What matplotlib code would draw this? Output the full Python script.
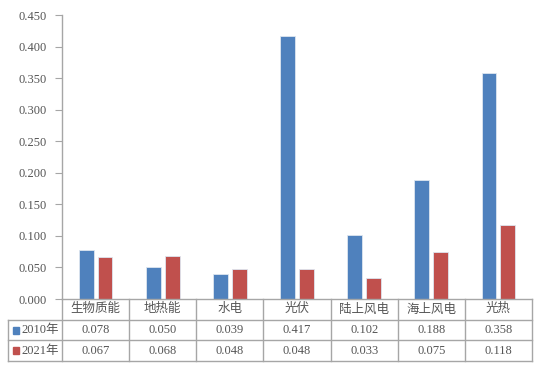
import matplotlib.pyplot as plt
import numpy as np
from matplotlib.patches import Rectangle

categories = ["生物质能", "地热能", "水电", "光伏", "陆上风电", "海上风电", "光热"]
series_names = ["2010年", "2021年"]
values_2010 = [0.078, 0.050, 0.039, 0.417, 0.102, 0.188, 0.358]
values_2021 = [0.067, 0.068, 0.048, 0.048, 0.033, 0.075, 0.118]
colors = ["#4F81BD", "#C0504D"]
yticks = np.arange(0, 0.451, 0.05)

FONT = ["Liberation Serif", "Noto Sans CJK SC"]
TEXT_COLOR = "#555555"
LINE_COLOR = "#A6A6A6"

W, H = 538, 365
fig = plt.figure(figsize=(W / 100, H / 100), dpi=100)

x_left, x_right = 62, 532
y_top, y_zero = 15, 299
row_h = 20.7
lab_left = 8

ax = fig.add_axes([x_left / W, 1 - y_zero / H, (x_right - x_left) / W, (y_zero - y_top) / H])
x = np.arange(len(categories))
bw = 0.22
for vals, c, off in zip([values_2010, values_2021], colors, [-0.14, 0.14]):
    ax.bar(x + off, vals, bw, color=c, edgecolor="#DDE6F0", linewidth=0.6)

ax.set_xlim(-0.5, len(categories) - 0.5)
ax.set_ylim(0, 0.45)
ax.set_yticks(yticks)
ax.set_yticklabels([f"{v:.3f}" for v in yticks], fontfamily=FONT, fontsize=9, color=TEXT_COLOR)
ax.tick_params(axis="y", direction="out", length=5, width=0.8, color=LINE_COLOR, pad=6)
ax.set_xticks([])
for s in ["top", "right", "bottom"]:
    ax.spines[s].set_visible(False)
ax.spines["left"].set_color(LINE_COLOR)
ax.spines["left"].set_linewidth(1.0)

# data table below the axes
cat_w = (x_right - x_left) / len(categories)
extra = (x_left - lab_left) / cat_w
tab = fig.add_axes([lab_left / W, 1 - (y_zero + 3 * row_h) / H,
                    (x_right - lab_left) / W, 3 * row_h / H])
tab.set_xlim(-0.5 - extra, len(categories) - 0.5)
tab.set_ylim(3, 0)
tab.axis("off")

lw = 1.0
# horizontal lines
tab.plot([-0.5, len(categories) - 0.5], [0, 0], color=LINE_COLOR, lw=lw, clip_on=False)
for r in [1, 2, 3]:
    tab.plot([-0.5 - extra, len(categories) - 0.5], [r, r], color=LINE_COLOR, lw=lw, clip_on=False)
# vertical lines
for i in range(len(categories) + 1):
    tab.plot([i - 0.5, i - 0.5], [0, 3], color=LINE_COLOR, lw=lw, clip_on=False)
tab.plot([-0.5 - extra, -0.5 - extra], [1, 3], color=LINE_COLOR, lw=lw, clip_on=False)

for i, cat in enumerate(categories):
    tab.text(i, 0.5, cat, ha="center", va="center", fontfamily=FONT, fontsize=9, color=TEXT_COLOR)
for r, (name, vals, c) in enumerate(zip(series_names, [values_2010, values_2021], colors), start=1):
    for i, v in enumerate(vals):
        tab.text(i, r + 0.5, f"{v:.3f}", ha="center", va="center", fontfamily=FONT,
                 fontsize=9, color=TEXT_COLOR)
    kx = -0.5 - extra + 5 / cat_w
    tab.add_patch(Rectangle((kx, r + 0.5 - 0.17), 5.5 / cat_w, 0.34, color=c, clip_on=False))
    tab.text(-0.5 - extra + 13 / cat_w, r + 0.5, name, ha="left", va="center", fontfamily=FONT,
             fontsize=9, color=TEXT_COLOR)

fig.savefig("out.png", dpi=100)
